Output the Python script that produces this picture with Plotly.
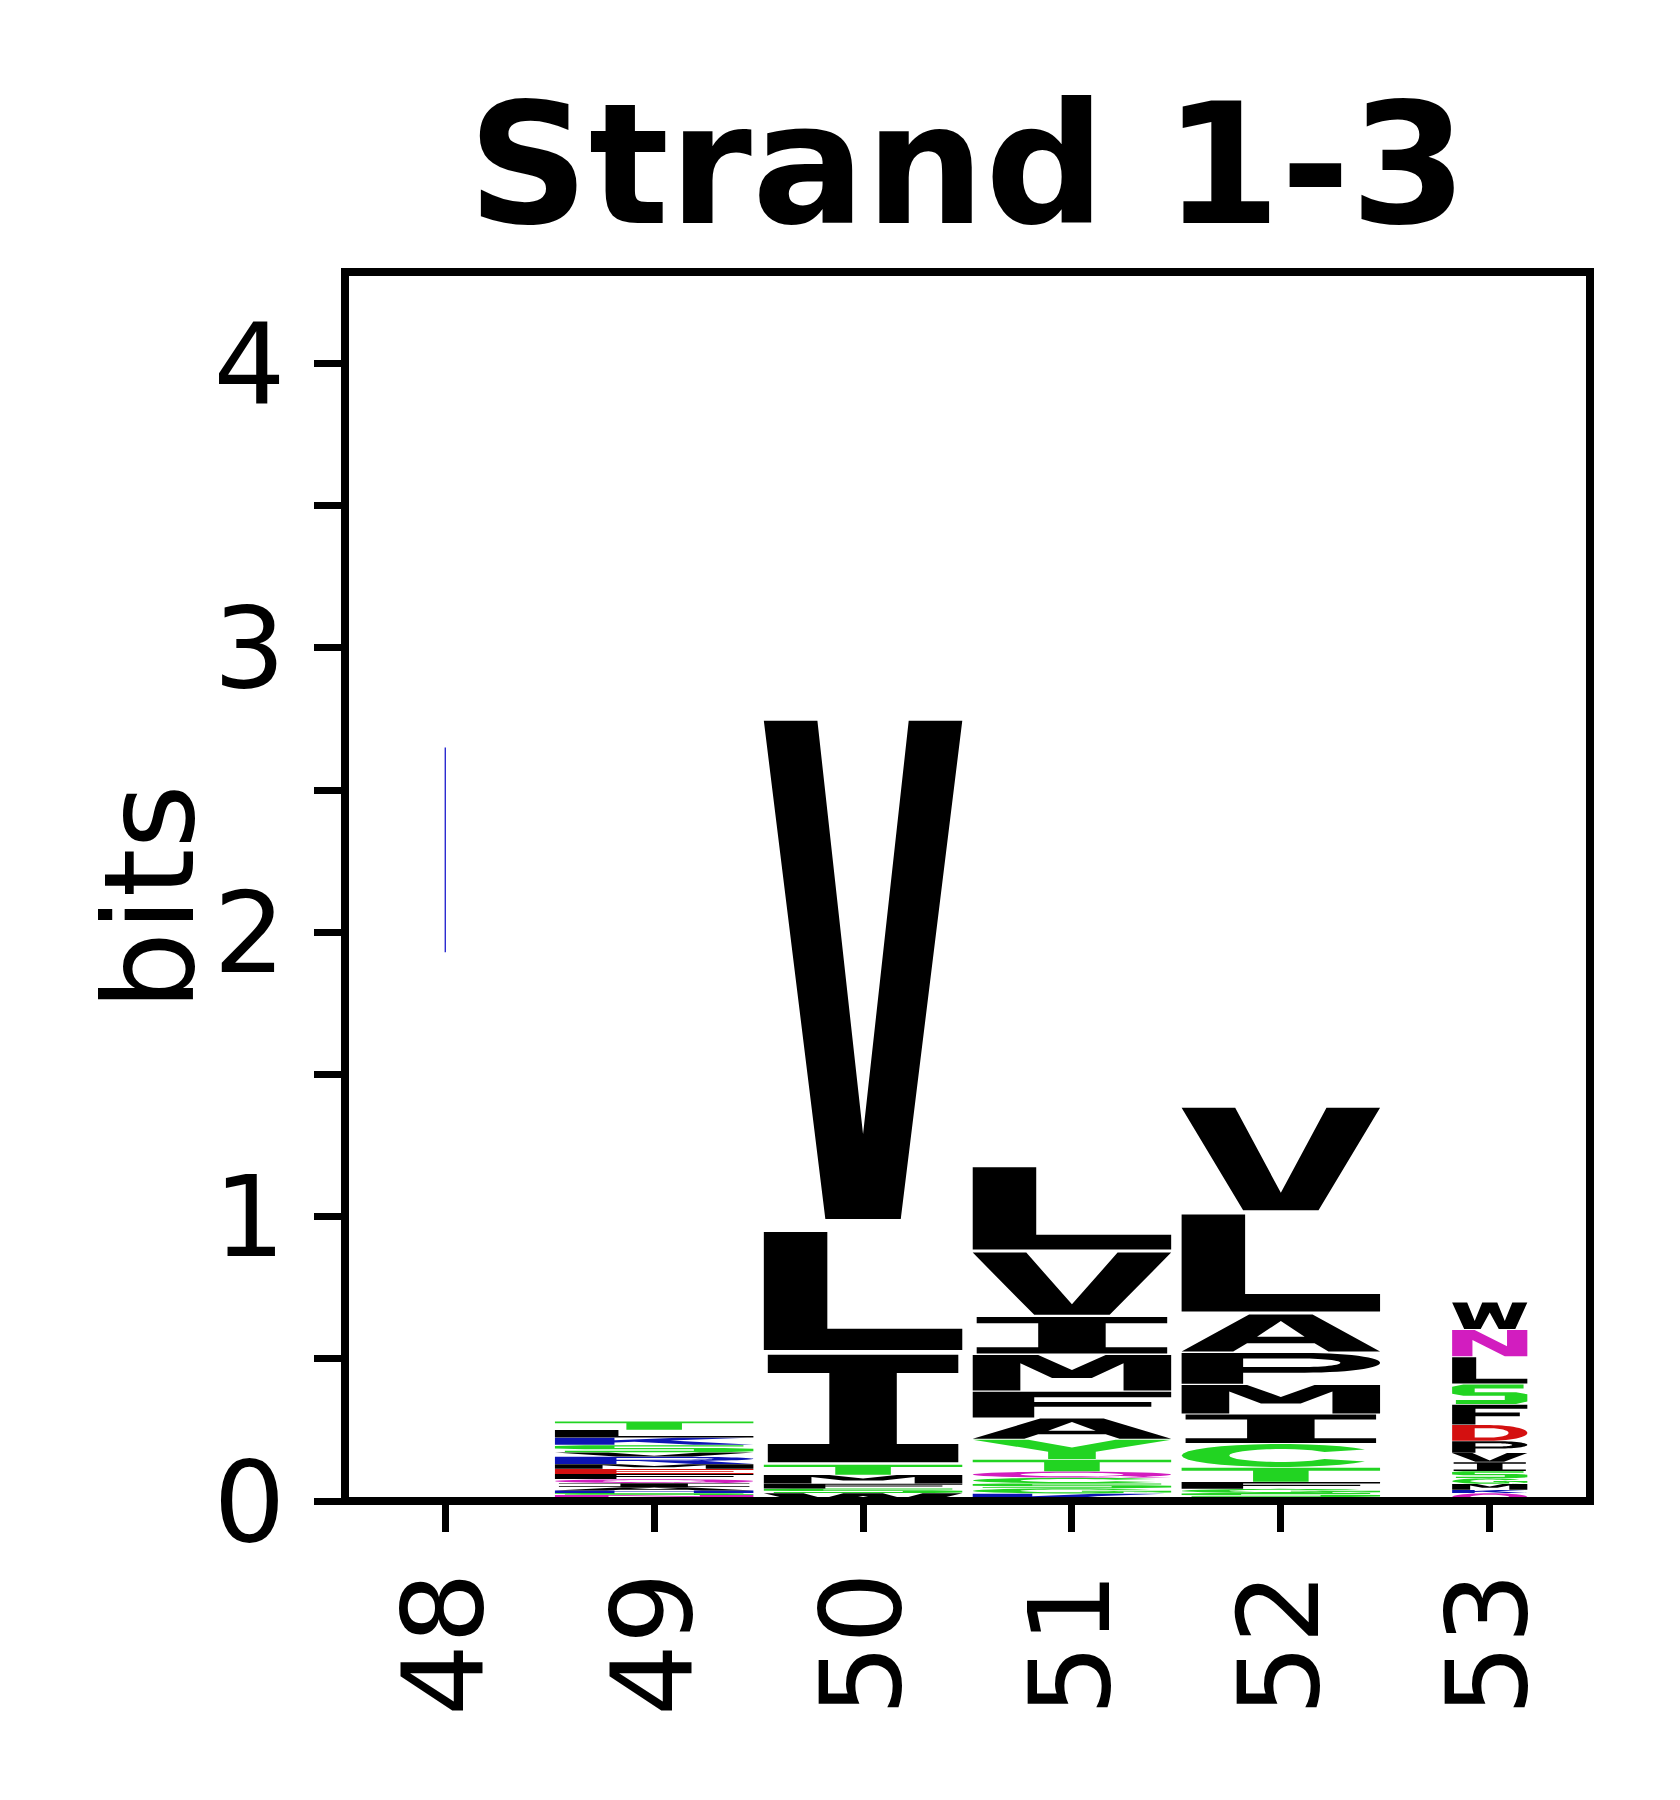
import math
import plotly.graph_objects as go

# ---------------- data ----------------
positions = [48, 49, 50, 51, 52, 53]
col_widths = [0.004, 0.95, 0.95, 0.95, 0.95, 0.36]

# column 48: a single, almost zero-width blue mark
col48_letters = ["K"]
col48_heights = [0.72]
col48_base = 1.93

col49_letters = ["E", "N", "S", "H", "A", "I", "Q", "F", "E", "M", "R", "V", "S", "K", "L", "T"]
col49_heights = [0.014, 0.007, 0.007, 0.009, 0.012, 0.014, 0.014, 0.018, 0.018, 0.017, 0.026, 0.015, 0.026, 0.026, 0.027, 0.030]

col50_letters = ["W", "S", "F", "M", "T", "I", "L", "V"]
col50_heights = [0.028, 0.016, 0.017, 0.031, 0.036, 0.394, 0.433, 1.825]

col51_letters = ["K", "G", "S", "C", "Q", "T", "Y", "A", "F", "M", "I", "V", "L"]
col51_heights = [0.026, 0.019, 0.017, 0.020, 0.022, 0.042, 0.071, 0.075, 0.094, 0.130, 0.134, 0.228, 0.302]

col52_letters = ["W", "S", "G", "F", "T", "C", "I", "M", "P", "A", "L", "V"]
col52_heights = [0.014, 0.014, 0.015, 0.024, 0.051, 0.084, 0.104, 0.104, 0.113, 0.136, 0.356, 0.375]

col53_letters = ["Q", "K", "M", "G", "S", "I", "V", "P", "D", "F", "S", "L", "N", "W"]
col53_heights = [0.028, 0.011, 0.021, 0.020, 0.025, 0.032, 0.032, 0.042, 0.057, 0.072, 0.071, 0.096, 0.096, 0.097]

y_tick_values = [0, 0.5, 1, 1.5, 2, 2.5, 3, 3.5, 4]
y_tick_labels = ["0", "", "1", "", "2", "", "3", "", "4"]
x_tick_labels = ["48", "49", "50", "51", "52", "53"]
title_text = "Strand 1-3"
y_title = "bits"

# ---------------- colours ----------------
GREEN = "#22d422"
PURPLE = "#d21dbf"
BLUE = "#0c14b4"
RED = "#d41010"
BLACK = "#000000"


def letter_color(ch):
    if ch in "GSTYC":
        return GREEN
    if ch in "NQ":
        return PURPLE
    if ch in "KRH":
        return BLUE
    if ch in "DE":
        return RED
    return BLACK


# ---------------- glyph outlines (unit box) ----------------
def arc(cx, cy, rx, ry, a0, a1, n=28):
    pts = []
    for i in range(n + 1):
        t = math.radians(a0 + (a1 - a0) * i / n)
        pts.append((cx + rx * math.cos(t), cy + ry * math.sin(t)))
    return pts


def glyph(ch):
    if ch == "V":
        return [[(0, 1), (0.27, 1), (0.5, 0.17), (0.73, 1), (1, 1), (0.69, 0), (0.31, 0)]]
    if ch == "L":
        return [[(0, 0), (1, 0), (1, 0.18), (0.32, 0.18), (0.32, 1), (0, 1)]]
    if ch == "I":
        return [[(0.02, 0), (0.98, 0), (0.98, 0.17), (0.67, 0.17), (0.67, 0.83), (0.98, 0.83),
                 (0.98, 1), (0.02, 1), (0.02, 0.83), (0.33, 0.83), (0.33, 0.17), (0.02, 0.17)]]
    if ch == "T":
        return [[(0, 1), (1, 1), (1, 0.78), (0.64, 0.78), (0.64, 0), (0.36, 0), (0.36, 0.78), (0, 0.78)]]
    if ch == "M":
        return [[(0, 0), (0.24, 0), (0.24, 0.77), (0.4, 0.35), (0.6, 0.35), (0.76, 0.77), (0.76, 0),
                 (1, 0), (1, 1), (0.67, 1), (0.5, 0.58), (0.33, 1), (0, 1)]]
    if ch == "A":
        return [[(0, 0), (0.26, 0), (0.33, 0.22), (0.67, 0.22), (0.74, 0), (1, 0), (0.66, 1), (0.34, 1)],
                [(0.38, 0.4), (0.5, 0.82), (0.62, 0.4)]]
    if ch == "Y":
        return [[(0, 1), (0.28, 1), (0.5, 0.6), (0.72, 1), (1, 1), (0.62, 0.38), (0.62, 0),
                 (0.38, 0), (0.38, 0.38)]]
    if ch == "F":
        return [[(0, 0), (0.31, 0), (0.31, 0.42), (0.9, 0.42), (0.9, 0.6), (0.31, 0.6), (0.31, 0.79),
                 (1, 0.79), (1, 1), (0, 1)]]
    if ch == "E":
        return [[(0, 0), (1, 0), (1, 0.2), (0.31, 0.2), (0.31, 0.42), (0.9, 0.42), (0.9, 0.6),
                 (0.31, 0.6), (0.31, 0.8), (1, 0.8), (1, 1), (0, 1)]]
    if ch == "P" or ch == "R":
        b = 0.36 if ch == "P" else 0.42
        cy = (b + 1) / 2
        ry = (1 - b) / 2
        outer = [(0, 0), (0.31, 0), (0.31, b), (0.62, b)] + arc(0.62, cy, 0.38, ry, -90, 90) + [(0, 1)]
        hy0 = b + 0.18 * (1 - b) / 0.64
        hy1 = 1 - 0.18 * (1 - b) / 0.64
        hole = [(0.31, hy0), (0.31, hy1), (0.6, hy1)] + arc(0.6, (hy0 + hy1) / 2, 0.2, (hy1 - hy0) / 2, 90, -90)
        rings = [outer, hole]
        if ch == "R":
            rings.append([(0.42, 0.42), (0.7, 0), (1, 0), (0.72, 0.46)])
        return rings
    if ch == "D":
        outer = [(0, 0), (0.5, 0)] + arc(0.5, 0.5, 0.5, 0.5, -90, 90) + [(0, 1)]
        hole = [(0.3, 0.2), (0.3, 0.8), (0.5, 0.8)] + arc(0.5, 0.5, 0.25, 0.3, 90, -90)
        return [outer, hole]
    if ch == "C":
        return [arc(0.5, 0.5, 0.5, 0.5, 32, 328) + arc(0.5, 0.5, 0.26, 0.28, 328, 32)]
    if ch == "G":
        ring = arc(0.5, 0.5, 0.5, 0.5, 38, 335) + arc(0.5, 0.5, 0.26, 0.28, 335, 38)
        bar = [(0.55, 0.33), (0.76, 0.33), (0.76, 0.08), (1, 0.2), (1, 0.52), (0.55, 0.52)]
        return [ring, bar]
    if ch == "Q" or ch == "O":
        outer = arc(0.5, 0.5, 0.5, 0.5, 0, 360, 40)
        hole = arc(0.5, 0.5, 0.26, 0.3, 360, 0, 40)
        rings = [outer, hole]
        if ch == "Q":
            rings.append([(0.55, 0.2), (0.8, 0), (1, 0), (0.74, 0.26)])
        return rings
    if ch == "S":
        return [[(0.05, 0), (0.85, 0), (1, 0.12), (1, 0.5), (0.85, 0.6), (0.3, 0.6), (0.3, 0.8),
                 (0.95, 0.8), (0.95, 1), (0.15, 1), (0, 0.88), (0, 0.52), (0.15, 0.42), (0.7, 0.42),
                 (0.7, 0.2), (0.05, 0.2)]]
    if ch == "N":
        return [[(0, 0), (0.27, 0), (0.27, 0.62), (0.7, 0), (1, 0), (1, 1), (0.73, 1), (0.73, 0.38),
                 (0.3, 1), (0, 1)]]
    if ch == "W":
        return [[(0, 1), (0.2, 1), (0.3, 0.3), (0.4, 1), (0.6, 1), (0.7, 0.3), (0.8, 1), (1, 1),
                 (0.84, 0), (0.62, 0), (0.5, 0.62), (0.38, 0), (0.16, 0)]]
    if ch == "K":
        return [[(0, 0), (0.3, 0), (0.3, 0.32), (0.4, 0.44), (0.7, 0), (1, 0), (0.58, 0.6), (0.97, 1),
                 (0.62, 1), (0.3, 0.65), (0.3, 1), (0, 1)]]
    if ch == "H":
        return [[(0, 0), (0.3, 0), (0.3, 0.4), (0.7, 0.4), (0.7, 0), (1, 0), (1, 1), (0.7, 1),
                 (0.7, 0.6), (0.3, 0.6), (0.3, 1), (0, 1)]]
    return [[(0, 0), (1, 0), (1, 1), (0, 1)]]


def letter_path(ch, xc, w, y0, h):
    parts = []
    for ring in glyph(ch):
        pts = [(xc - w / 2 + px * w, y0 + py * h) for px, py in ring]
        s = "M" + " L".join(f"{x:.5f},{y:.5f}" for x, y in pts) + " Z"
        parts.append(s)
    return " ".join(parts)


VPAD = 0.02
shapes = []


def add_column(pos, width, letters, heights, base=0.0):
    y = base
    for ch, h in zip(letters, heights):
        pad = VPAD * h
        shapes.append(dict(
            type="path", xref="x", yref="y",
            path=letter_path(ch, pos, width, y + pad, h - 2 * pad),
            fillcolor=letter_color(ch), line=dict(width=0), layer="above",
        ))
        y += h


columns = [
    (col49_letters, col49_heights),
    (col50_letters, col50_heights),
    (col51_letters, col51_heights),
    (col52_letters, col52_heights),
    (col53_letters, col53_heights),
]

# column 48: near zero-width mark drawn as a hairline
shapes.append(dict(type="line", xref="x", yref="y",
                   x0=positions[0], x1=positions[0],
                   y0=col48_base, y1=col48_base + col48_heights[0],
                   line=dict(color="#1a1acc", width=1.3), layer="above"))

for pos, wdt, (lets, hts) in zip(positions[1:], col_widths[1:], columns):
    add_column(pos, wdt, lets, hts)

# frame (spines centred on the plot-area edges, drawn above the letters)
shapes.append(dict(type="rect", xref="paper", yref="paper", x0=0, x1=1, y0=0, y1=1,
                   line=dict(color="black", width=8), fillcolor="rgba(0,0,0,0)", layer="above"))

fig = go.Figure()
fig.add_trace(go.Scatter(x=positions, y=[None] * len(positions), mode="markers",
                         showlegend=False, hoverinfo="skip"))

FONT = "DejaVu Sans"
fig.update_layout(
    width=1680, height=1800,
    paper_bgcolor="white", plot_bgcolor="white",
    margin=dict(l=337, r=98, t=264, b=307),
    shapes=shapes,
    showlegend=False,
    title=dict(text="<b>" + title_text + "</b>",
               font=dict(family=FONT, size=168, color="black"),
               x=0.5, xref="paper", xanchor="center",
               y=1 - 215 / 1800, yref="container", yanchor="bottom"),
    xaxis=dict(range=[47.52, 53.48], tickmode="array", tickvals=positions, ticktext=x_tick_labels,
               tickangle=-90, ticks="outside", ticklen=30, tickwidth=7, tickcolor="black",
               showline=False, showgrid=False, zeroline=False, ticklabelstandoff=-5,
               tickfont=dict(family=FONT, size=113, color="black")),
    yaxis=dict(range=[0, 4.3219], tickmode="array", tickvals=y_tick_values, ticktext=y_tick_labels,
               ticks="outside", ticklen=30, tickwidth=7, tickcolor="black",
               showline=False, showgrid=False, zeroline=False, ticklabelstandoff=6,
               tickfont=dict(family=FONT, size=113, color="black")),
    annotations=[dict(text=y_title, textangle=-90, xref="paper", yref="paper",
                      x=0, y=0.5, xanchor="center", yanchor="middle",
                      xshift=-196, yshift=-11, showarrow=False,
                      font=dict(family=FONT, size=124, color="black"))],
)

fig.write_html("out.html")
